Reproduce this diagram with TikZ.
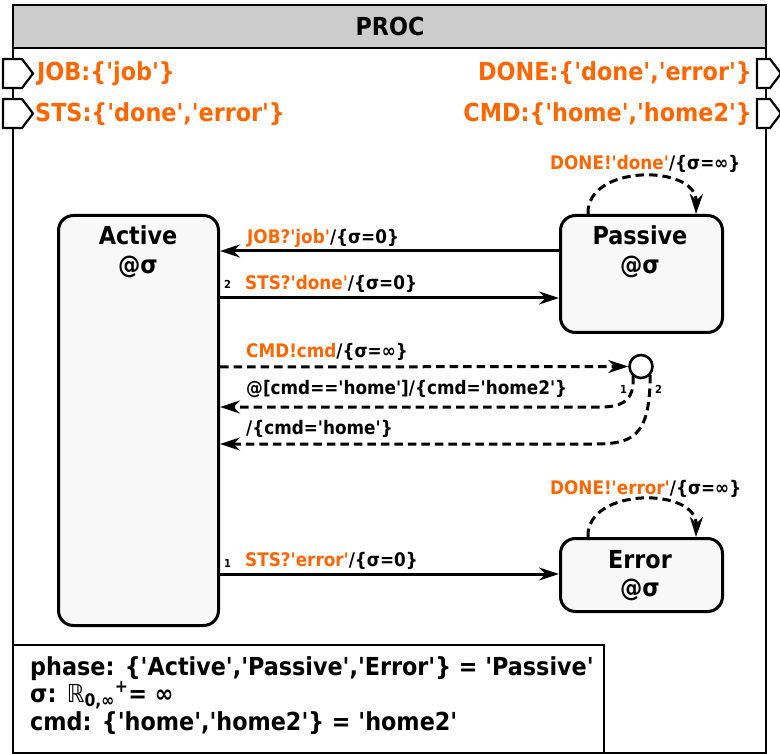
\documentclass[tikz,border=0pt]{standalone}
\usepackage{fontspec}
\setmainfont{DejaVu Sans Condensed}[Ligatures=TeXOff]
\usetikzlibrary{arrows.meta,calc}
\definecolor{org}{RGB}{255,102,0}
\definecolor{boxfill}{RGB}{248,248,248}
\definecolor{titlegray}{RGB}{204,204,204}
\tikzset{
  statebox/.style={draw, line width=3pt, rounded corners=15pt, fill=boxfill, anchor=north west, inner sep=0pt},
  trans/.style={line width=3pt, -{Stealth[length=20pt,width=13pt,inset=6.5pt]}},
  dsh/.style={dash pattern=on 8.5pt off 5pt},
  lbl/.style={anchor=base west, inner sep=0pt, font=\bfseries\fontsize{18.7}{20}\selectfont},
  big/.style={inner sep=0pt, font=\bfseries\fontsize{24.8}{26}\selectfont},
  tiny/.style={anchor=base west, inner sep=0pt, font=\bfseries\fontsize{11}{11}\selectfont},
  portshape/.style={draw, line width=2.2pt, fill=white},
}
\begin{document}
\begin{tikzpicture}[x=1pt,y=-1pt]
\useasboundingbox (0,0) rectangle (780,754);
% frame and title
\fill[titlegray] (13,5) rectangle (766,48);
\draw[line width=2.4pt] (13,5) rectangle (766,753);
\draw[line width=2.4pt] (13,48) -- (766,48);
\node[big, anchor=base] (title) at (390,36) {PROC};
% ports
\draw[portshape] (3,59) -- (22,59) -- (33,73.5) -- (22,88) -- (3,88) -- cycle;
\draw[portshape] (3,99) -- (22,99) -- (33,113.5) -- (22,128) -- (3,128) -- cycle;
\draw[portshape] (757,59) -- (770,59) -- (781,73.5) -- (770,88) -- (757,88) -- cycle;
\draw[portshape] (757,99) -- (770,99) -- (781,113.5) -- (770,128) -- (757,128) -- cycle;
\node[big, anchor=base west, text=org] (pjob) at (37,81) {JOB:\{'job'\}};
\node[big, anchor=base west, text=org] (psts) at (35,122) {STS:\{'done','error'\}};
\node[big, anchor=base east, text=org] (pdone) at (752,81) {DONE:\{'done','error'\}};
\node[big, anchor=base east, text=org] (pcmd) at (752,122) {CMD:\{'home','home2'\}};
% states
\node[statebox, minimum width=160pt, minimum height=410pt] (Active) at (57,214) {};
\node[statebox, minimum width=162pt, minimum height=117pt] (Passive) at (559,214) {};
\node[statebox, minimum width=162pt, minimum height=73pt] (Error) at (559,537) {};
\node[big, anchor=base] (ActiveT) at (138,245) {Active};
\node[big, anchor=base] (ActiveS) at (138,274) {@σ};
\node[big, anchor=base] (PassiveT) at (640,245) {Passive};
\node[big, anchor=base] (PassiveS) at (640,274) {@σ};
\node[big, anchor=base] (ErrorT) at (640,568) {Error};
\node[big, anchor=base] (ErrorS) at (640,596) {@σ};
% choice point
\node[draw, circle, line width=2.6pt, minimum size=23pt, inner sep=0pt, fill=white] (ch) at (641,366.5) {};
% transitions
\draw[trans] (Passive.west |- 0,251) -- (Active.east |- 0,251);
\node[lbl] (l1) at (247,244) {\textcolor{org}{JOB?'job'}/\{σ=0\}};
\draw[trans] (Active.east |- 0,298) -- (Passive.west |- 0,298);
\node[lbl] (l2) at (245,290) {\textcolor{org}{STS?'done'}/\{σ=0\}};
\node[tiny] (n2) at (224,289) {2};
\draw[trans, dsh] (Active.east |- 0,367) -- (ch.west);
\node[lbl] (l3) at (246,358) {\textcolor{org}{CMD!cmd}/\{σ=∞\}};
\coordinate (b1) at (633,376);
\coordinate (b2) at (650,375);
\draw[trans, dsh] (b1) -- (633,385) .. controls (631,401) and (622,407) .. (600,407) -- (Active.east |- 0,407);
\node[lbl] (l4) at (246,395) {@[cmd=='home']/\{cmd='home2'\}};
\draw[trans, dsh] (b2) -- (650,385) .. controls (648,436) and (632,444) .. (595,444) -- (Active.east |- 0,444);
\node[lbl] (l5) at (246,435) {/\{cmd='home'\}};
\node[tiny] (n4) at (620,393) {1};
\node[tiny] (n5) at (655,393) {2};
% self loops
\draw[trans, dsh] (Passive.north -| 588,0) .. controls (586,164) and (697,164) .. (Passive.north -| 696,0);
\node[lbl] (l6) at (550,170) {\textcolor{org}{DONE!'done'}/\{σ=∞\}};
\draw[trans, dsh] (Error.north -| 588,0) .. controls (586,487) and (697,487) .. (Error.north -| 696,0);
\node[lbl] (l7) at (550,494) {\textcolor{org}{DONE!'error'}/\{σ=∞\}};
% error transition
\draw[trans] (Active.east |- 0,574) -- (Error.west |- 0,574);
\node[lbl] (l8) at (245,566) {\textcolor{org}{STS?'error'}/\{σ=0\}};
\node[tiny] (n8) at (224,567) {1};
% variables
\draw[line width=2.4pt] (13,645) rectangle (604,753);
\node[big, anchor=base west] (v1) at (30,675) {phase: \{'Active','Passive','Error'\} = 'Passive'};
\node[big, anchor=base west] (v2) at (30,702) {σ: {\mdseries ℝ}\textsubscript{0,∞}\textsuperscript{+}= ∞};
\node[big, anchor=base west] (v3) at (30,730) {cmd: \{'home','home2'\} = 'home2'};
\end{tikzpicture}
\end{document}
